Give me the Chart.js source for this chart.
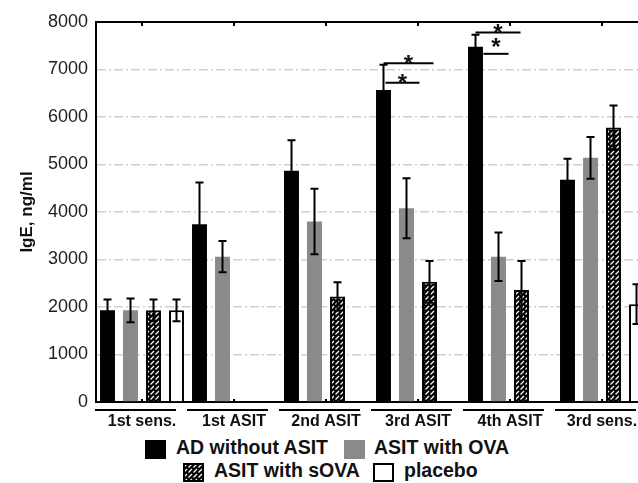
<!DOCTYPE html>
<html>
<head>
<meta charset="utf-8">
<script src="https://cdn.jsdelivr.net/npm/chart.js@4/dist/chart.umd.min.js"></script>
<style>
  html, body { margin: 0; padding: 0; background: #fff; overflow: hidden; width: 638px; height: 483px; }
  #wrap { position: relative; width: 638px; height: 483px; }
  canvas { position: absolute; left: 0; top: 0; }
  .lg { position: absolute; font: bold 19.5px "Liberation Sans", Arial, sans-serif; color: #111; white-space: nowrap; }
  .box { position: absolute; width: 21px; height: 19px; box-sizing: border-box; }
</style>
</head>
<body>
<div id="wrap">
  <canvas id="igeChart" width="660" height="432"></canvas>
  <div class="box" style="left:145px;top:440px;background:#000"></div>
  <div class="lg" style="left:176px;top:436px">AD without ASIT</div>
  <div class="box" style="left:344px;top:440px;background:#8a8a8a"></div>
  <div class="lg" style="left:374px;top:436px">ASIT with OVA</div>
  <canvas id="hatchBox" class="box" width="21" height="19" style="left:183px;top:463px"></canvas>
  <div class="lg" style="left:214px;top:459px">ASIT with sOVA</div>
  <div class="box" style="left:373px;top:463px;background:#fff;border:2px solid #000"></div>
  <div class="lg" style="left:404px;top:459px">placebo</div>
</div>
<script>
const stages = ['1st sens.', '1st ASIT', '2nd ASIT', '3rd ASIT', '4th ASIT', '3rd sens.'];

const adWithoutAsit = [1930, 3740, 4870, 6570, 7480, 4680];
const adWithoutAsitErr = [230, 880, 640, 530, 250, 440];
const asitOva = [1930, 3060, 3800, 4080, 3060, 5140];
const asitOvaErr = [250, 330, 690, 630, 510, 440];
const asitSOva = [1930, null, 2220, 2530, 2360, 5780];
const asitSOvaErr = [230, null, 300, 440, 610, 460];
const placebo = [1930, null, null, null, null, 2060];
const placeboErr = [230, null, null, null, null, 420];

// significance brackets (stage index, level in ng/ml)
const sigStage = [3, 3, 4, 4];
const sigLevel = [7130, 6720, 7780, 7330];
const sigSpan = [[0, 50], [2, 36], [0, 45], [8, 33]];
const sigStarUp = [5, 5, 5, 12];

const yTicks = [0, 1000, 2000, 3000, 4000, 5000, 6000, 7000, 8000];

function makeHatch(ctx) {
    const c = document.createElement('canvas');
    c.width = 5; c.height = 5;
    const g = c.getContext('2d');
    g.fillStyle = '#000';
    g.fillRect(0, 0, 5, 5);
    g.strokeStyle = '#fff';
    g.lineWidth = 1.2;
    g.beginPath();
    g.moveTo(0.5, 4.5); g.lineTo(4, 1);
    g.stroke();
    return ctx.createPattern(c, 'repeat');
}

const ctx = document.getElementById('igeChart').getContext('2d');
const hatch = makeHatch(ctx);

// legend swatch for the hatched series
const hb = document.getElementById('hatchBox').getContext('2d');
hb.fillStyle = makeHatch(hb);
hb.fillRect(0, 0, 21, 19);
hb.strokeStyle = '#000';
hb.lineWidth = 2;
hb.strokeRect(1, 1, 19, 17);

const errorBars = {
    id: 'errorBars',
    afterDatasetsDraw(chart) {
        const c = chart.ctx;
        const y = chart.scales.y;
        c.save();
        c.strokeStyle = '#000';
        c.lineWidth = 2;
        chart.data.datasets.forEach((ds, i) => {
            const meta = chart.getDatasetMeta(i);
            meta.data.forEach((bar, j) => {
                const v = ds.data[j], e = ds.errors[j];
                if (v == null || e == null) return;
                const top = y.getPixelForValue(v + e);
                const bot = y.getPixelForValue(v - e);
                c.beginPath();
                c.moveTo(bar.x, top); c.lineTo(bar.x, bot);
                c.moveTo(bar.x - 4, top); c.lineTo(bar.x + 4, top);
                c.moveTo(bar.x - 4, bot); c.lineTo(bar.x + 4, bot);
                c.stroke();
            });
        });
        c.restore();
    }
};

const frame = {
    id: 'frame',
    afterDraw(chart) {
        const c = chart.ctx;
        const a = chart.chartArea;
        const x = chart.scales.x;
        const y = chart.scales.y;
        c.save();
        c.strokeStyle = '#000';
        c.lineWidth = 2;
        // top border
        c.beginPath();
        c.moveTo(a.left - 1, a.top); c.lineTo(a.right, a.top);
        c.stroke();
        // small ticks at stage centres
        stages.forEach((s, i) => {
            const px = x.getPixelForValue(i);
            c.beginPath();
            c.moveTo(px, a.top); c.lineTo(px, a.top + 4);
            c.moveTo(px, a.bottom); c.lineTo(px, a.bottom - 3);
            c.stroke();
        });
        // underline under each stage label
        const w = x.getPixelForValue(1) - x.getPixelForValue(0);
        stages.forEach((s, i) => {
            const left = x.getPixelForValue(i) - w / 2;
            c.beginPath();
            c.moveTo(left - 1, a.bottom + 8); c.lineTo(left + 80, a.bottom + 8);
            c.stroke();
        });
        // significance brackets
        const black = chart.getDatasetMeta(0).data;
        c.fillStyle = '#111';
        c.font = 'bold 24px "Liberation Sans", Arial, sans-serif';
        c.textAlign = 'center';
        c.textBaseline = 'alphabetic';
        sigStage.forEach((st, k) => {
            const bx = black[st].x;
            const py = y.getPixelForValue(sigLevel[k]);
            const x0 = bx + sigSpan[k][0], x1 = bx + sigSpan[k][1];
            c.beginPath();
            c.moveTo(x0, py); c.lineTo(x1, py);
            c.stroke();
            c.fillText('*', (x0 + x1) / 2, py - sigStarUp[k] + 13.5);
        });
        c.restore();
    }
};

new Chart(ctx, {
    type: 'bar',
    data: {
        labels: stages,
        datasets: [
            { label: 'AD without ASIT', data: adWithoutAsit, errors: adWithoutAsitErr, backgroundColor: '#000', borderWidth: 0 },
            { label: 'ASIT with OVA', data: asitOva, errors: asitOvaErr, backgroundColor: '#8a8a8a', borderWidth: 0 },
            { label: 'ASIT with sOVA', data: asitSOva, errors: asitSOvaErr, backgroundColor: hatch, borderColor: '#000', borderWidth: 2 },
            { label: 'placebo', data: placebo, errors: placeboErr, backgroundColor: '#fff', borderColor: '#000', borderWidth: 2 }
        ]
    },
    options: {
        responsive: false,
        animation: false,
        devicePixelRatio: 1,
        layout: { padding: { top: 22, right: 12, bottom: 0, left: 0 } },
        datasets: { bar: { categoryPercentage: 1.0, barPercentage: 0.65 } },
        plugins: { legend: { display: false }, tooltip: { enabled: false } },
        scales: {
            x: {
                offset: true,
                grid: { drawOnChartArea: false, drawTicks: false },
                border: { color: '#000', width: 2 },
                ticks: { padding: 10, color: '#111', font: { family: '"Liberation Sans", Arial', size: 16, weight: 'bold' } },
                afterFit(s) { s.height = 30; }
            },
            y: {
                min: 0,
                max: 8000,
                afterBuildTicks(s) { s.ticks = yTicks.map(v => ({ value: v })); },
                grid: { color: '#cfcfcf', lineWidth: 1.5, drawTicks: false },
                border: { color: '#000', width: 2, dash: [9, 3, 2, 3] },
                ticks: {
                    padding: 8,
                    color: '#222',
                    font: { family: '"Liberation Sans", Arial', size: 18 },
                    callback: v => String(v)
                },
                title: {
                    display: true,
                    text: 'IgE, ng/ml',
                    color: '#111',
                    padding: { top: 17, bottom: 0 },
                    font: { family: '"Liberation Sans", Arial', size: 17, weight: 'bold' }
                },
                afterFit(s) { s.width = 96; }
            }
        }
    },
    plugins: [errorBars, frame]
});
</script>
</body>
</html>
